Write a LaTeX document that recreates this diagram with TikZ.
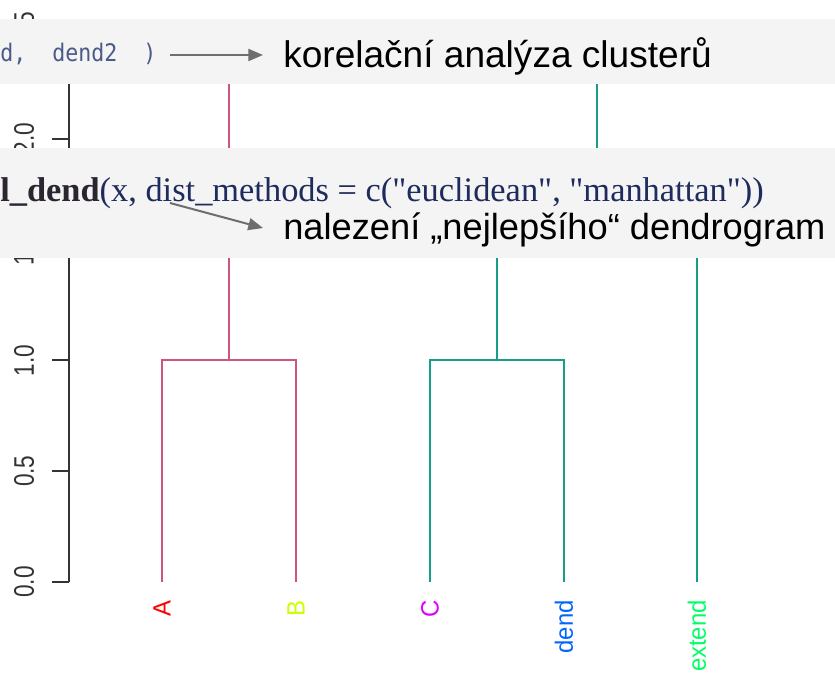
\documentclass[tikz,border=0pt]{standalone}
\usepackage{fontspec}
\setmainfont{Liberation Sans}
\newfontfamily\codeserif{Liberation Serif}
\newfontfamily\codemono{DejaVu Sans Mono}
\usetikzlibrary{arrows.meta}
\definecolor{boxgray}{HTML}{F4F4F4}
\definecolor{pinkbr}{HTML}{D0557A}
\definecolor{tealbr}{HTML}{169E88}
\definecolor{axgray}{HTML}{333333}
\definecolor{arrgray}{HTML}{6E6E6E}
\definecolor{codeblue}{HTML}{4B5A88}
\definecolor{codenavy}{HTML}{1E2B5C}
\definecolor{codebold}{HTML}{2A2530}
\definecolor{labA}{HTML}{FF0000}
\definecolor{labB}{HTML}{CCFF00}
\definecolor{labC}{HTML}{DD00FF}
\definecolor{labD}{HTML}{0066FF}
\definecolor{labE}{HTML}{00FF66}
\tikzset{
  axisline/.style={draw=axgray, line width=1.4pt},
  branchpink/.style={draw=pinkbr, line width=1.3pt},
  branchteal/.style={draw=tealbr, line width=1.3pt},
  branchtop/.style={draw=black, line width=1.3pt},
  ticklab/.style={rotate=90, yscale=1.25, inner sep=0pt, text=axgray, font=\fontsize{17}{19}\selectfont},
  leaflab/.style={rotate=90, yscale=1.05, anchor=east, inner sep=0pt, font=\fontsize{17.9}{19}\selectfont},
  greyband/.style={fill=boxgray},
  bigtext/.style={anchor=base west, inner sep=0pt, text=black, font=\fontsize{27.8}{30}\selectfont},
  monocode/.style={anchor=base west, inner sep=0pt, yscale=1.12, text=codeblue, font=\codemono\fontsize{16.2}{18}\selectfont},
  serifcode/.style={anchor=base west, inner sep=0pt, text=codenavy, font=\codeserif\fontsize{25.8}{28}\selectfont},
  pointer/.style={draw=arrgray, line width=1.5pt, -{Triangle[length=11pt,width=9pt]}}
}
\begin{document}
\begin{tikzpicture}[x=0.75pt,y=-0.75pt]
\useasboundingbox (0,0) rectangle (835,684);

% ---- y axis (0.0 -> 582, 1 unit = 221.7 px)
\coordinate (ax0) at (69,582);
\coordinate (ax25) at (69,27.7);
\draw[axisline] (ax0) -- (ax25);
\foreach \v/\yy [count=\i] in {0.0/582,0.5/471.2,1.0/360.3,1.5/249.5,2.0/138.6,2.5/27.7}{
  \coordinate (tick\i) at (69,\yy);
  \draw[axisline] (tick\i) -- ++(-17,0);
  \node[ticklab] (ticklabel\i) at (24,\yy) {\v};
}

% ---- dendrogram
\coordinate (lA) at (162,582);
\coordinate (lB) at (296,582);
\coordinate (lC) at (430,582);
\coordinate (lD) at (564,582);
\coordinate (lE) at (697,582);
\coordinate (mAB) at (229,360.3);
\coordinate (mCD) at (497,360.3);
\coordinate (mCDE) at (597,200);
\coordinate (topL) at (229,40);
\coordinate (topR) at (597,40);

\draw[branchpink] (lA) |- (mAB) -| (lB);
\draw[branchpink] (mAB) -- (topL);
\draw[branchteal] (lC) |- (mCD) -| (lD);
\draw[branchteal] (mCD) |- (mCDE) -| (lE);
\draw[branchteal] (mCDE) -- (topR);
\draw[branchtop] (topL) -- (topR);

% ---- leaf labels
\node[leaflab, text=labA] (nA) at (162,600) {A};
\node[leaflab, text=labB] (nB) at (296,600) {B};
\node[leaflab, text=labC] (nC) at (430,600) {C};
\node[leaflab, text=labD] (nD) at (564,600) {dend};
\node[leaflab, text=labE] (nE) at (697,600) {extend};

% ---- grey bands
\fill[greyband] (0,19) rectangle (835,84);
\fill[greyband] (0,148) rectangle (835,258);

% ---- band 1
\node[monocode] (code1) at (0,62) {d,\ \ dend2\ \ )};
\node[bigtext] (lab1) at (283,68) {korelační analýza clusterů};
\coordinate (a1s) at (170,55);
\coordinate (a1e) at (263,55);
\draw[pointer] (a1s) -- (a1e);

% ---- band 2
\node[serifcode] (code2) at (0,202) {{\color{codebold}\bfseries l\_dend}(x, dist\_methods = c("euclidean", "manhattan"))};
\node[bigtext, font=\fontsize{27.2}{30}\selectfont] (lab2) at (283,240) {nalezení „nejlepšího“ dendrogram};
\coordinate (a2s) at (170,203);
\coordinate (a2e) at (263,228);
\draw[pointer] (a2s) -- (a2e);
\end{tikzpicture}
\end{document}
